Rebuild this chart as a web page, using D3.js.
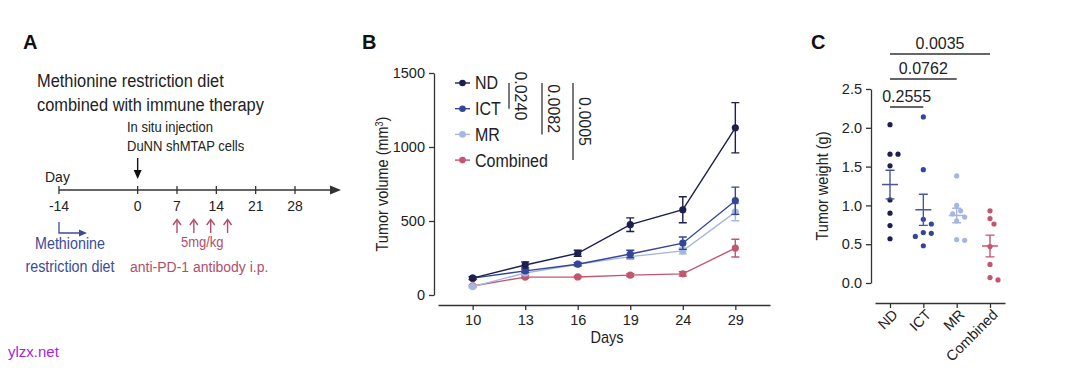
<!DOCTYPE html>
<html><head><meta charset="utf-8">
<script src="https://cdn.jsdelivr.net/npm/d3@7"></script>
<style>
body{margin:0;background:#fff}
svg{display:block}
text{font-family:"Liberation Sans",Arial,Helvetica,sans-serif}
</style>
</head><body>
<svg id="chart" width="1080" height="368"></svg>
<script>
// ---------- Panel A data ----------
const timelineTicks = [-14, 0, 7, 14, 21, 28];
const dosingDays = [7, 10, 13, 16];
const injectionDay = 0;
const dietStartDay = -14;

// ---------- Panel B data ----------
const days = ["10", "13", "16", "19", "24", "29"];
const seriesNames = ["ND", "ICT", "MR", "Combined"];
const ndVolume = [114, 203, 282, 475, 576, 1130];
const ndSem = [10, 20, 20, 46, 88, 170];
const ictVolume = [114, 163, 208, 277, 350, 637];
const ictSem = [8, 12, 10, 25, 42, 92];
const mrVolume = [57, 149, 208, 259, 298, 560];
const mrSem = [6, 10, 10, 18, 20, 58];
const combinedVolume = [61, 121, 122, 134, 143, 317];
const combinedSem = [5, 8, 6, 10, 15, 60];
const volumeTicks = [0, 500, 1000, 1500];
const volumePValues = ["0.0240", "0.0082", "0.0005"]; // ND vs ICT, MR, Combined

// ---------- Panel C data ----------
const weightGroups = ["ND", "ICT", "MR", "Combined"];
const ndWeight = [2.04, 1.66, 1.66, 1.51, 1.07, 0.90, 0.74, 0.57];
const ictWeight = [2.14, 1.46, 0.82, 0.76, 0.65, 0.64, 0.60, 0.48];
const mrWeight = [1.38, 1.00, 0.93, 0.89, 0.85, 0.80, 0.56, 0.55];
const combinedWeight = [0.93, 0.83, 0.76, 0.47, 0.24, 0.07, 0.04];
const weightTicks = [0, 0.5, 1.0, 1.5, 2.0, 2.5];
const weightPValues = ["0.2555", "0.0762", "0.0035"]; // ND vs ICT, MR, Combined

// ---------- styles ----------
const colors = {ND: "#1c1f4f", ICT: "#34459a", MR: "#a5b7e0", Combined: "#c2566f"};
const meanColors = {ND: "#4a5596", ICT: "#4657a6", MR: "#a5b7e0", Combined: "#c2566f"};
const axisColor = "#333";
const textColor = "#222";
const blueText = "#3b4b98";
const redText = "#b24e6d";
const REG = '"Liberation Sans",Arial,sans-serif';

// slightly condensed lettering (taller glyphs, same width)
const SX = 0.9;
function nt(sel, size, rot) {
  const x = +sel.attr("x") || 0, y = +sel.attr("y") || 0;
  sel.attr("x", null).attr("y", null)
    .attr("transform", `translate(${x},${y})${rot ? ` rotate(${rot})` : ""} scale(${SX},1)`)
    .attr("font-size", size / SX);
  return sel;
}

const svg = d3.select("#chart");
svg.append("rect").attr("width", 1080).attr("height", 368).attr("fill", "#fff");

// panel letters
[["A", 23], ["B", 362], ["C", 811]].forEach(([t, x]) => {
  svg.append("text").attr("x", x).attr("y", 49).text(t)
    .attr("font-size", 20).attr("font-weight", "bold").attr("fill", "#111");
});

// ================= Panel A =================
const gA = svg.append("g");
nt(gA.append("text").attr("x", 37).attr("y", 87).text("Methionine restriction diet").attr("fill", textColor), 16.4);
nt(gA.append("text").attr("x", 37).attr("y", 111).text("combined with immune therapy").attr("fill", textColor), 16.4);

const tl = d3.scaleLinear([-14, 28], [59, 295]);
const tlY = 190;
gA.append("line").attr("x1", tl(-14)).attr("x2", 333).attr("y1", tlY).attr("y2", tlY)
  .attr("stroke", axisColor).attr("stroke-width", 1.4);
gA.append("path").attr("d", `M341,${tlY} L330,${tlY - 4.5} L330,${tlY + 4.5} Z`).attr("fill", axisColor);
gA.selectAll(".tlTick").data(timelineTicks).join("line")
  .attr("x1", d => tl(d)).attr("x2", d => tl(d)).attr("y1", tlY - 4).attr("y2", tlY + 4)
  .attr("stroke", axisColor).attr("stroke-width", 1.3);
gA.selectAll(".tlLab").data(timelineTicks).join("text")
  .attr("x", d => tl(d)).attr("y", 211).attr("text-anchor", "middle")
  .attr("font-size", 14).attr("fill", textColor).text(d => d);
nt(gA.append("text").attr("x", 45).attr("y", 182).text("Day").attr("fill", textColor), 14);

// injection
const ix = tl(injectionDay);
nt(gA.append("text").attr("x", 127).attr("y", 132).text("In situ injection").attr("fill", textColor), 13);
nt(gA.append("text").attr("x", 127).attr("y", 151).text("DuNN shMTAP cells").attr("fill", textColor), 13);
gA.append("line").attr("x1", ix).attr("x2", ix).attr("y1", 158).attr("y2", 172)
  .attr("stroke", "#111").attr("stroke-width", 1.4);
gA.append("path").attr("d", `M${ix},179 L${ix - 4},170 L${ix + 4},170 Z`).attr("fill", "#111");

// dosing arrows
dosingDays.forEach(d => {
  const x = tl(d);
  gA.append("line").attr("x1", x).attr("x2", x).attr("y1", 220).attr("y2", 233)
    .attr("stroke", redText).attr("stroke-width", 1.4);
  gA.append("path").attr("d", `M${x - 4},225 L${x},219.5 L${x + 4},225`)
    .attr("fill", "none").attr("stroke", redText).attr("stroke-width", 1.4);
});
const doseMid = (tl(dosingDays[0]) + tl(dosingDays[dosingDays.length - 1])) / 2;
nt(gA.append("text").attr("x", doseMid).attr("y", 247).attr("text-anchor", "middle")
  .text("5mg/kg").attr("fill", redText), 13);
nt(gA.append("text").attr("x", 130).attr("y", 272).text("anti-PD-1 antibody i.p.")
  .attr("fill", redText), 14);

// diet arrow
const dx = tl(dietStartDay);
gA.append("path").attr("d", `M${dx},222 V233 H80`).attr("fill", "none")
  .attr("stroke", blueText).attr("stroke-width", 1.3);
gA.append("path").attr("d", `M87,233 L79,229.5 L79,236.5 Z`).attr("fill", blueText);
nt(gA.append("text").attr("x", 70).attr("y", 249).attr("text-anchor", "middle")
  .text("Methionine").attr("fill", blueText), 14.3);
nt(gA.append("text").attr("x", 70).attr("y", 272).attr("text-anchor", "middle")
  .text("restriction diet").attr("fill", blueText), 14.3);

// ================= Panel B =================
const gB = svg.append("g");
const xB = d3.scalePoint(days, [438, 770]).padding(0.66);
const yB = d3.scaleLinear([0, 1500], [295, 73]);

const axB = gB.append("g").attr("transform", "translate(0,305)")
  .call(d3.axisBottom(xB).tickSize(5).tickSizeOuter(0).tickPadding(5));
const ayB = gB.append("g").attr("transform", "translate(434,0)")
  .call(d3.axisLeft(yB).tickValues(volumeTicks).tickSize(5).tickSizeOuter(0).tickPadding(4).tickFormat(d3.format("d")));
[axB, ayB].forEach(a => {
  a.select(".domain").attr("stroke", axisColor).attr("stroke-width", 1.3);
  a.selectAll(".tick line").attr("stroke", axisColor).attr("stroke-width", 1.3);
  a.selectAll(".tick text").attr("font-size", 14.5).attr("fill", textColor).attr("font-family", REG);
});
nt(gB.append("text").attr("x", 607).attr("y", 343).attr("text-anchor", "middle")
  .text("Days").attr("fill", textColor), 14.5);
const yl = nt(gB.append("text").attr("x", 388).attr("y", (73 + 295) / 2)
  .attr("text-anchor", "middle").attr("fill", textColor), 14.5, -90);
yl.append("tspan").text("Tumor volume (mm");
yl.append("tspan").text("3").attr("font-size", 9 / SX).attr("baseline-shift", "super");
yl.append("tspan").text(")");

const volSeries = [
  {name: "ND", mean: ndVolume, sem: ndSem},
  {name: "ICT", mean: ictVolume, sem: ictSem},
  {name: "MR", mean: mrVolume, sem: mrSem},
  {name: "Combined", mean: combinedVolume, sem: combinedSem}
].map(s => ({...s, pts: days.map((d, i) => ({day: d, v: s.mean[i], e: s.sem[i]}))}));

const line = d3.line().x(d => xB(d.day)).y(d => yB(d.v));
volSeries.slice().reverse().forEach(s => {
  const g = gB.append("g");
  const c = colors[s.name];
  g.append("path").attr("d", line(s.pts)).attr("fill", "none").attr("stroke", c).attr("stroke-width", 1.4);
  g.selectAll(".eb").data(s.pts).join("path")
    .attr("d", d => {
      const x = xB(d.day), y1 = yB(d.v - d.e), y2 = yB(d.v + d.e);
      return `M${x},${y1}V${y2}M${x - 4},${y1}H${x + 4}M${x - 4},${y2}H${x + 4}`;
    })
    .attr("fill", "none").attr("stroke", c).attr("stroke-width", 1.4);
  g.selectAll("circle").data(s.pts).join("circle")
    .attr("cx", d => xB(d.day)).attr("cy", d => yB(d.v)).attr("r", 3.6).attr("fill", c);
});

// legend
const legY = i => 83 + i * 25.7;
seriesNames.forEach((n, i) => {
  const y = legY(i);
  gB.append("line").attr("x1", 455).attr("x2", 470).attr("y1", y).attr("y2", y)
    .attr("stroke", colors[n]).attr("stroke-width", 1.4);
  gB.append("circle").attr("cx", 462.5).attr("cy", y).attr("r", 3.3).attr("fill", colors[n]);
  nt(gB.append("text").attr("x", 475).attr("y", y).attr("dy", "0.36em").text(n)
    .attr("fill", textColor), 16);
});
// p-value brackets (ND vs others)
const bracketX = [509, 542, 573];
volumePValues.forEach((p, i) => {
  const x = bracketX[i], y1 = legY(0), y2 = legY(i + 1);
  gB.append("line").attr("x1", x).attr("x2", x).attr("y1", y1).attr("y2", y2)
    .attr("stroke", axisColor).attr("stroke-width", 1.3);
  gB.append("text").attr("transform", `translate(${x + 6},${(y1 + y2) / 2}) rotate(90)`)
    .attr("text-anchor", "middle").text(p).attr("font-size", 16).attr("fill", textColor);
});

// ================= Panel C =================
const gC = svg.append("g");
const xC = d3.scalePoint(weightGroups, [875, 1005]).padding(0.45);
const yC = d3.scaleLinear([0, 2.5], [283, 89]);

const axC = gC.append("g").attr("transform", "translate(0,303)")
  .call(d3.axisBottom(xC).tickSize(5).tickSizeOuter(0));
const ayC = gC.append("g").attr("transform", "translate(871,0)")
  .call(d3.axisLeft(yC).tickValues(weightTicks).tickSize(5).tickSizeOuter(0).tickPadding(4).tickFormat(d3.format(".1f")));
[axC, ayC].forEach(a => {
  a.select(".domain").attr("stroke", axisColor).attr("stroke-width", 1.3);
  a.selectAll(".tick line").attr("stroke", axisColor).attr("stroke-width", 1.3);
  a.selectAll(".tick text").attr("font-size", 14.5).attr("fill", textColor).attr("font-family", REG);
});
axC.selectAll(".tick text").attr("text-anchor", "end")
  .attr("transform", "rotate(-45)").attr("x", -3).attr("y", 6).attr("dy", "0.6em");
nt(gC.append("text").attr("x", 828).attr("y", (89 + 283) / 2)
  .attr("text-anchor", "middle").text("Tumor weight (g)").attr("fill", textColor), 14.5, -90);

const weightSets = [ndWeight, ictWeight, mrWeight, combinedWeight];
const r = 2.6;
weightGroups.forEach((gName, gi) => {
  const vals = weightSets[gi];
  const cx = xC(gName);
  // simple beeswarm placement
  const placed = [];
  vals.forEach(v => {
    const y = yC(v);
    const cands = [0, 4, -4, 8, -8, 12, -12];
    let off = 0;
    for (const o of cands) {
      if (placed.every(p => Math.hypot(p.x - (cx + o), p.y - y) >= 2 * r + 1.5)) { off = o; break; }
    }
    placed.push({x: cx + off, y});
  });
  gC.selectAll(null).data(placed).join("circle")
    .attr("cx", d => d.x).attr("cy", d => d.y).attr("r", r).attr("fill", colors[gName]);
  const m = d3.mean(vals);
  const sem = d3.deviation(vals) / Math.sqrt(vals.length);
  const mc = meanColors[gName];
  gC.append("line").attr("x1", cx - 8).attr("x2", cx + 8).attr("y1", yC(m)).attr("y2", yC(m))
    .attr("stroke", mc).attr("stroke-width", 1.5);
  gC.append("path").attr("d",
    `M${cx},${yC(m - sem)}V${yC(m + sem)}M${cx - 4.5},${yC(m - sem)}H${cx + 4.5}M${cx - 4.5},${yC(m + sem)}H${cx + 4.5}`)
    .attr("fill", "none").attr("stroke", mc).attr("stroke-width", 1.4);
});

// significance brackets
const bracketY = [107, 79, 54];
weightPValues.forEach((p, i) => {
  const x1 = xC(weightGroups[0]), x2 = xC(weightGroups[i + 1]), y = bracketY[i];
  gC.append("line").attr("x1", x1).attr("x2", x2).attr("y1", y).attr("y2", y)
    .attr("stroke", axisColor).attr("stroke-width", 1.3);
  gC.append("text").attr("x", (x1 + x2) / 2).attr("y", y - 5).attr("text-anchor", "middle")
    .text(p).attr("font-size", 16).attr("fill", textColor);
});

// watermark
svg.append("text").attr("x", 8).attr("y", 357).text("ylzx.net")
  .attr("font-size", 15).attr("fill", "#a51fe0").attr("font-family", REG);
</script>
</body></html>
